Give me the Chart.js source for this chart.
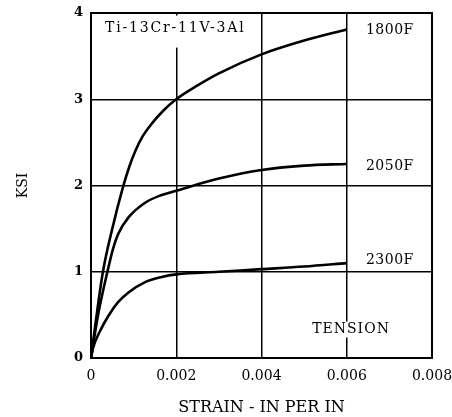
<!DOCTYPE html>
<html>
<head>
<meta charset="utf-8">
<script src="https://cdn.jsdelivr.net/npm/chart.js@4"></script>
<style>
html,body{margin:0;padding:0;background:#fff;}
#wrap{width:452px;height:417px;}
</style>
</head>
<body>
<div id="wrap"><canvas id="c" width="452" height="417"></canvas></div>
<script>
// ---- data ----
const strain1800 = [0, 0.0001, 0.00028, 0.0005, 0.00075, 0.0009, 0.00104, 0.0012, 0.00143, 0.0017, 0.002, 0.0025, 0.003, 0.004, 0.005, 0.006];
const ksi1800    = [0, 0.38,   1.0,     1.5,    1.98,    2.22,   2.40,    2.56,   2.72,    2.87,   3.0,   3.16,   3.30,  3.52,  3.68,  3.81];

const strain2050 = [0, 0.00017, 0.00039, 0.00052, 0.00064, 0.00088, 0.00127, 0.00166, 0.002, 0.003, 0.004, 0.005, 0.006];
const ksi2050    = [0, 0.51,    1.01,    1.27,    1.44,    1.63,    1.80,    1.89,    1.94,  2.08,  2.18,  2.23,  2.25];

const strain2300 = [0, 0.00005, 0.00021, 0.00041, 0.00064, 0.00088, 0.00127, 0.00166, 0.002, 0.003, 0.004, 0.005, 0.006];
const ksi2300    = [0, 0.12,    0.31,    0.49,    0.65,    0.76,    0.88,    0.94,    0.97,  1.00,  1.03,  1.06,  1.10];

const seriesNames = ['1800F', '2050F', '2300F'];
const xTicks = [0, 0.002, 0.004, 0.006, 0.008];
const yTicks = [0, 1, 2, 3, 4];
const alloyLabel = 'Ti-13Cr-11V-3Al';
const loadLabel = 'TENSION';
const xTitle = 'STRAIN - IN PER IN';
const yTitle = 'KSI';

function pts(xs, ys){ return xs.map((x,i)=>({x:x, y:ys[i]})); }

const SERIF = '"DejaVu Serif", "Liberation Serif", serif';

const labelPlugin = {
  id: 'labels',
  afterDatasetsDraw(chart){
    const ctx = chart.ctx;
    const xs = chart.scales.x, ys = chart.scales.y;
    ctx.save();
    ctx.fillStyle = '#000';
    ctx.textBaseline = 'middle';
    ctx.textAlign = 'left';
    // alloy label with white backing (hides grid line)
    ctx.font = '14px ' + SERIF;
    try { ctx.letterSpacing = '1.8px'; } catch(e){}
    ctx.fillStyle = '#fff';
    ctx.fillRect(xs.getPixelForValue(0.00012), ys.getPixelForValue(3.97), 150, 32);
    ctx.fillStyle = '#000';
    ctx.fillText(alloyLabel, xs.getPixelForValue(0.00033), ys.getPixelForValue(3.82));
    // series labels
    try { ctx.letterSpacing = '0.5px'; } catch(e){}
    const endX = 0.00645;
    const lab = [[seriesNames[0], 3.80],[seriesNames[1], 2.22],[seriesNames[2], 1.13]];
    lab.forEach(l => ctx.fillText(l[0], xs.getPixelForValue(endX), ys.getPixelForValue(l[1])));
    // TENSION with white backing
    try { ctx.letterSpacing = '1px'; } catch(e){}
    const tw = ctx.measureText(loadLabel).width;
    const tx = xs.getPixelForValue(0.00519), ty = ys.getPixelForValue(0.33);
    ctx.fillStyle = '#fff';
    ctx.fillRect(tx - 1, ty - 8, tw + 2, 16);
    ctx.fillStyle = '#000';
    ctx.fillText(loadLabel, tx, ty);
    ctx.restore();
  }
};

const frame = {
  id: 'frame',
  afterDatasetsDraw(chart){
    const {ctx, chartArea:a} = chart;
    ctx.save();
    ctx.strokeStyle = '#000';
    ctx.lineWidth = 2;
    ctx.strokeRect(a.left, a.top, a.right - a.left, a.bottom - a.top);
    ctx.restore();
  }
};

const lineStyle = {borderColor:'#000', borderWidth:2.6, pointRadius:0, fill:false, cubicInterpolationMode:'monotone'};

new Chart(document.getElementById('c'), {
  type: 'line',
  data: {
    datasets: [
      Object.assign({label: seriesNames[0], data: pts(strain1800, ksi1800)}, lineStyle),
      Object.assign({label: seriesNames[1], data: pts(strain2050, ksi2050)}, lineStyle),
      Object.assign({label: seriesNames[2], data: pts(strain2300, ksi2300)}, lineStyle)
    ]
  },
  options: {
    responsive: false,
    animation: false,
    layout: {padding: {top: 13, right: 20, left: 0, bottom: 0}},
    plugins: {legend: {display: false}, tooltip: {enabled: false}},
    scales: {
      x: {
        type: 'linear', min: xTicks[0], max: xTicks[xTicks.length-1],
        afterBuildTicks(s){ s.ticks = xTicks.map(v => ({value: v})); },
        ticks: {
          color: '#000', padding: 10, maxRotation: 0,
          font: {family: SERIF, size: 14},
          callback: v => v === 0 ? '0' : Number(v).toFixed(3)
        },
        grid: {color: '#000', lineWidth: 1.5, drawTicks: false},
        border: {color: '#000', width: 2},
        title: {display: true, text: xTitle, color: '#000', font: {family: SERIF, size: 16}, padding: {top: 0, bottom: 0}},
        afterFit(s){ s.height = 59; s.paddingLeft = 0; s.paddingRight = 0; }
      },
      y: {
        type: 'linear', min: yTicks[0], max: yTicks[yTicks.length-1],
        afterBuildTicks(s){ s.ticks = yTicks.map(v => ({value: v})); },
        ticks: {color: '#000', padding: 8, font: {family: SERIF, size: 13, weight: 'bold'}},
        grid: {color: '#000', lineWidth: 1.5, drawTicks: false},
        border: {color: '#000', width: 2},
        title: {display: true, text: yTitle, color: '#000', font: {family: SERIF, size: 14}, padding: {top: 15, bottom: 0}},
        afterFit(s){ s.width = 91; s.paddingTop = 0; s.paddingBottom = 0; }
      }
    }
  },
  plugins: [labelPlugin, frame]
});
</script>
</body>
</html>
